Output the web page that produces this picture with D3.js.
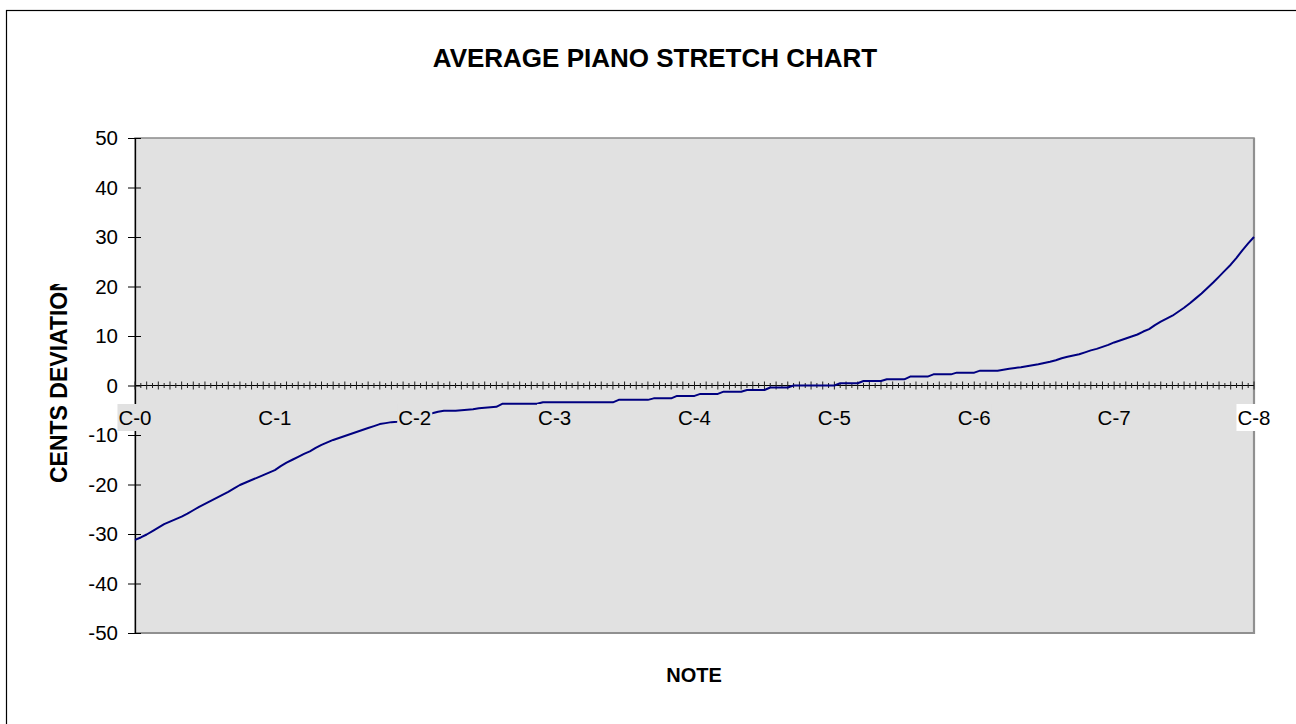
<!DOCTYPE html>
<html>
<head>
<meta charset="utf-8">
<script src="https://cdn.jsdelivr.net/npm/d3@7"></script>
<style>
  html, body { margin: 0; padding: 0; background: #fff; }
  svg { display: block; font-family: "Liberation Sans", Arial, sans-serif; }
</style>
</head>
<body>
<svg id="chart" width="1296" height="724"></svg>
<script>
// ---- data ----
const titleText = "AVERAGE PIANO STRETCH CHART";
const xTitle = "NOTE";
const yTitle = "CENTS DEVIATION";
const noteLabels = ["C-0","C-1","C-2","C-3","C-4","C-5","C-6","C-7","C-8"];
const labelEvery = 24;          // categories per octave (half-semitone steps)
const yTicks = [50,40,30,20,10,0,-10,-20,-30,-40,-50];
const cents = [
-31.2,-30.7,-30.1,-29.4,-28.7,-28.0,-27.5,-27.0,-26.5,-25.9,-25.2,-24.5,
-23.9,-23.3,-22.7,-22.1,-21.5,-20.8,-20.1,-19.6,-19.1,-18.6,-18.1,-17.6,
-17.1,-16.3,-15.6,-15.0,-14.4,-13.8,-13.3,-12.6,-12.0,-11.5,-11.0,-10.6,
-10.2,-9.8,-9.4,-9.0,-8.6,-8.2,-7.8,-7.6,-7.4,-7.3,-7.0,-6.8,
-6.5,-6.2,-5.9,-5.6,-5.3,-5.1,-5.1,-5.1,-5.0,-4.9,-4.8,-4.6,
-4.5,-4.4,-4.3,-3.7,-3.7,-3.7,-3.7,-3.7,-3.7,-3.7,-3.4,-3.4,
-3.4,-3.4,-3.4,-3.4,-3.4,-3.4,-3.4,-3.4,-3.4,-3.4,-3.4,-2.9,
-2.9,-2.9,-2.9,-2.9,-2.9,-2.6,-2.6,-2.6,-2.6,-2.1,-2.1,-2.1,
-2.1,-1.7,-1.7,-1.7,-1.7,-1.25,-1.25,-1.25,-1.25,-0.9,-0.9,-0.9,
-0.9,-0.4,-0.4,-0.4,-0.4,0,0,0,0,0,0,0,
0,0.45,0.45,0.45,0.45,0.9,0.9,0.9,0.9,1.25,1.25,1.25,
1.25,1.8,1.8,1.8,1.8,2.25,2.25,2.25,2.25,2.6,2.6,2.6,
2.6,3.0,3.0,3.0,3.0,3.2,3.4,3.55,3.7,3.9,4.1,4.3,
4.55,4.8,5.1,5.5,5.8,6.05,6.3,6.7,7.1,7.4,7.8,8.2,
8.7,9.1,9.5,9.9,10.3,10.9,11.4,12.2,12.9,13.5,14.1,14.9,
15.7,16.6,17.6,18.6,19.7,20.8,22.0,23.2,24.4,25.8,27.3,28.7,
30.0
];

// ---- layout ----
const plot = { left: 135, top: 138, right: 1254, bottom: 633 };
const plotFill = "#e1e1e1";
const svg = d3.select("#chart");

const x = d3.scaleLinear().domain([0, cents.length - 1]).range([plot.left, plot.right]);
const y = d3.scaleLinear().domain([-50, 50]).range([plot.bottom, plot.top]);

// outer frame
svg.append("rect").attr("x", 6.5).attr("y", 10.5).attr("width", 1300).attr("height", 730)
  .attr("fill", "#fff").attr("stroke", "#000").attr("stroke-width", 1.2);

// title
svg.append("text").attr("x", 655).attr("y", 67).attr("text-anchor", "middle")
  .attr("font-size", 26).attr("font-weight", "bold").text(titleText);

// plot area
svg.append("rect").attr("x", plot.left).attr("y", plot.top)
  .attr("width", plot.right - plot.left).attr("height", plot.bottom - plot.top)
  .attr("fill", plotFill).attr("stroke", "#8a8a8a").attr("stroke-width", 1.5);
// heavier right/bottom edge
svg.append("path")
  .attr("d", `M${plot.right},${plot.top}V${plot.bottom}H${plot.left}`)
  .attr("fill", "none").attr("stroke", "#909090").attr("stroke-width", 2.2);

// y axis
const yAxis = d3.axisLeft(y).tickValues(yTicks).tickFormat(d => String(d))
  .tickSizeInner(7).tickSizeOuter(0).tickPadding(10);
const gy = svg.append("g").attr("transform", `translate(${plot.left},0)`).call(yAxis);
gy.select(".domain").attr("stroke", "#000").attr("stroke-width", 1.3);
gy.selectAll(".tick line").attr("stroke", "#000").attr("x2", -7).attr("x1", 6);
gy.selectAll(".tick text").attr("font-size", 20.5).attr("fill", "#000")
  .attr("font-family", "Liberation Sans, Arial, sans-serif");

// zero (category) axis with cross tick marks
const y0 = y(0);
const xAxisG = svg.append("g");
xAxisG.append("line").attr("x1", plot.left).attr("x2", plot.right)
  .attr("y1", y0).attr("y2", y0).attr("stroke", "#000").attr("stroke-width", 1.2);
xAxisG.selectAll("line.tk").data(d3.range(cents.length)).join("line")
  .attr("class", "tk")
  .attr("x1", d => x(d)).attr("x2", d => x(d))
  .attr("y1", d => y0 - (d % 2 === 0 ? 4 : 2.5))
  .attr("y2", d => y0 + (d % 2 === 0 ? 4 : 2.5))
  .attr("stroke", "#222").attr("stroke-width", 1);

// data line
const line = d3.line().x((d, i) => x(i)).y(d => y(d));
svg.append("path").datum(cents).attr("d", line)
  .attr("fill", "none").attr("stroke", "#000080").attr("stroke-width", 2)
  .attr("stroke-linejoin", "round");

// category labels with background boxes
const lblG = svg.append("g");
noteLabels.forEach((lab, k) => {
  const cx = x(k * labelEvery);
  const g = lblG.append("g");
  const box = g.append("rect");
  const t = g.append("text").attr("x", cx).attr("y", 425).attr("text-anchor", "middle")
    .attr("font-size", 20.5).attr("fill", "#000").text(lab);
  const bb = t.node().getBBox();
  box.attr("x", bb.x - 1).attr("y", 404).attr("width", bb.width + 2).attr("height", 27)
    .attr("fill", k === noteLabels.length - 1 ? "#fff" : plotFill);
});

// axis titles
svg.append("text").attr("x", 694).attr("y", 682).attr("text-anchor", "middle")
  .attr("font-size", 20).attr("font-weight", "bold").text(xTitle);

svg.append("clipPath").attr("id", "ytclip").append("rect")
  .attr("x", 0).attr("y", 284).attr("width", 120).attr("height", 300);
svg.append("g").attr("clip-path", "url(#ytclip)")
  .append("text").attr("transform", "translate(66.5,483) rotate(-90)")
  .attr("text-anchor", "start").attr("font-size", 23).attr("font-weight", "bold").text(yTitle);
</script>
</body>
</html>
